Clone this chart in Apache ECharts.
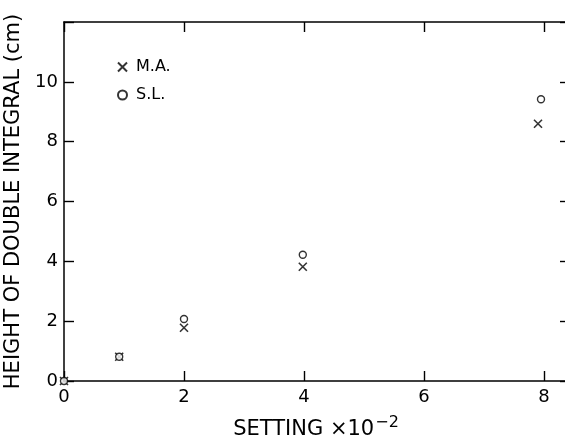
<!DOCTYPE html>
<html>
<head>
<meta charset="utf-8">
<script src="https://cdn.jsdelivr.net/npm/echarts@6/dist/echarts.min.js"></script>
<style>html,body{margin:0;padding:0;background:#fff}#c{width:565px;height:438px}</style>
</head>
<body>
<div id="c"></div>
<script>
// Data
var settingMA = [0, 0.92, 2.0, 3.98, 7.9];
var heightMA  = [0.0, 0.81, 1.78, 3.82, 8.6];
var settingSL = [0, 0.92, 2.0, 3.98, 7.95];
var heightSL  = [0.0, 0.81, 2.07, 4.22, 9.42];
var xTicks = [0, 2, 4, 6, 8];
var yTicks = [0, 2, 4, 6, 8, 10];
var seriesNames = ['M.A.', 'S.L.'];

function pairs(xs, ys) { return xs.map(function (x, i) { return [x, ys[i]]; }); }

var FONT = 'DejaVu Sans';
var crossPath = 'path://M0,0L10,10M10,0L0,10';
var lineStyle = { color: '#000', width: 1.5 };
var tickStyle = { color: '#000', width: 1.4 };

var chart = echarts.init(document.getElementById('c'), null, { renderer: 'canvas' });
chart.setOption({
  backgroundColor: '#fff',
  animation: false,
  grid: { left: 64, top: 22, width: 504, height: 359, containLabel: false, outerBoundsMode: 'none' },
  legend: {
    left: 112, top: 54, orient: 'vertical', itemGap: 12,
    itemWidth: 9, itemHeight: 9,
    textStyle: { fontFamily: FONT, fontSize: 16, color: '#000', padding: [0, 0, 0, 4] },
    data: seriesNames
  },
  xAxis: [{
    type: 'value', position: 'bottom', min: 0, max: 8.4, interval: 2,
    axisLine: { show: true, onZero: false, lineStyle: lineStyle },
    axisTick: { show: true, inside: true, length: 10, lineStyle: tickStyle },
    splitLine: { show: false },
    axisLabel: {
      margin: 7, fontFamily: FONT, fontSize: 18, color: '#000',
      formatter: function (v) { return xTicks.indexOf(v) >= 0 ? String(v) : ''; },
      showMaxLabel: false
    },
    name: '{t|SETTING ×10}{s|−2}', nameLocation: 'middle', nameGap: 34,
    nameTextStyle: {
      rich: {
        t: { fontFamily: FONT, fontSize: 21, color: '#000' },
        s: { fontFamily: FONT, fontSize: 16, color: '#000', verticalAlign: 'top', padding: [0, 0, 13, 1] }
      }
    }
  }, {
    type: 'value', position: 'top', min: 0, max: 8.4, interval: 2,
    axisLine: { show: true, onZero: false, lineStyle: lineStyle },
    axisTick: { show: true, inside: true, length: 10, lineStyle: tickStyle },
    splitLine: { show: false },
    axisLabel: { show: false }
  }],
  yAxis: [{
    type: 'value', position: 'left', min: 0, max: 12, interval: 2,
    axisLine: { show: true, onZero: false, lineStyle: lineStyle },
    axisTick: { show: true, inside: true, length: 10, lineStyle: tickStyle },
    splitLine: { show: false },
    axisLabel: {
      margin: 6, fontFamily: FONT, fontSize: 18, color: '#000',
      formatter: function (v) { return yTicks.indexOf(v) >= 0 ? String(v) : ''; }
    },
    name: 'HEIGHT OF DOUBLE INTEGRAL (cm)', nameLocation: 'middle', nameGap: 23, nameRotate: 90,
    nameTextStyle: { fontFamily: FONT, fontSize: 21, color: '#000' }
  }, {
    type: 'value', position: 'right', min: 0, max: 12, interval: 2,
    axisLine: { show: true, onZero: false, lineStyle: lineStyle },
    axisTick: { show: true, inside: true, length: 8, lineStyle: tickStyle },
    splitLine: { show: false },
    axisLabel: { show: false }
  }],
  series: [{
    name: seriesNames[0], type: 'scatter', symbol: crossPath, symbolSize: 8,
    itemStyle: { color: 'rgba(0,0,0,0)', borderColor: '#000', borderWidth: 1.6 },
    data: pairs(settingMA, heightMA)
  }, {
    name: seriesNames[1], type: 'scatter', symbol: 'circle', symbolSize: 7,
    itemStyle: { color: '#fff', borderColor: '#000', borderWidth: 1.4 },
    data: pairs(settingSL, heightSL)
  }]
});
</script>
</body>
</html>
